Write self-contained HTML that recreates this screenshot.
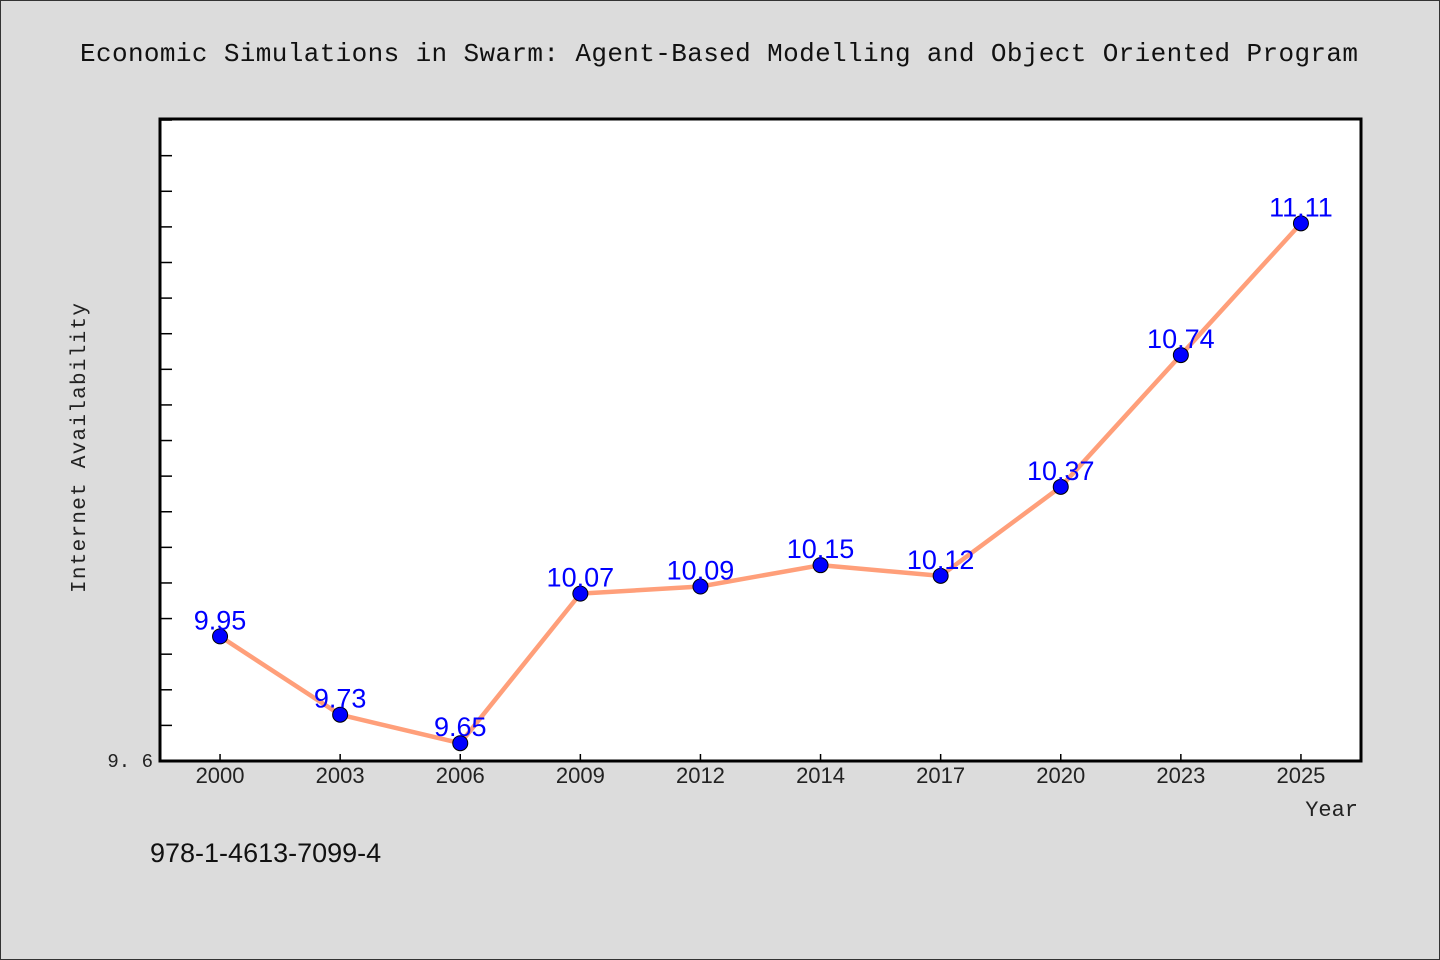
<!DOCTYPE html>
<html><head><meta charset="utf-8"><style>
html,body{margin:0;padding:0;background:#dcdcdc;}
svg{display:block;}
</style></head><body>
<svg id="chart" width="1440" height="960" xmlns="http://www.w3.org/2000/svg" font-family="Liberation Mono, monospace">
<rect x="0.5" y="0.5" width="1439" height="959" fill="#dcdcdc" stroke="#333"/>
<text x="80" y="61" textLength="1278" lengthAdjust="spacing" font-size="26" fill="#111">Economic Simulations in Swarm: Agent-Based Modelling and Object Oriented Program</text>
<rect x="160" y="119" width="1201" height="642" fill="#fff" stroke="#000" stroke-width="3"/>
<g id="yticks"></g>
<g id="xticks"></g>
<text x="85" y="448" transform="rotate(-90 85 448)" text-anchor="middle" font-size="21" textLength="290" lengthAdjust="spacing" fill="#222">Internet Availability</text>
<text x="1358" y="816" text-anchor="end" font-size="22" fill="#222">Year</text>
<text x="150" y="862" font-family="Liberation Sans, sans-serif" font-size="27" fill="#111">978-1-4613-7099-4</text>
<g id="series"></g>
</svg>
<script>
const categories=["2000","2003","2006","2009","2012","2014","2017","2020","2023","2025"];
const values=[9.95,9.73,9.65,10.07,10.09,10.15,10.12,10.37,10.74,11.11];
const yTickLabels=["9.6"];
const yMin=9.6, yMax=11.403;
const NS="http://www.w3.org/2000/svg";
const L=160,R=1361,T=119,B=761;
const band=(R-L)/categories.length;
function x(i){return L+band*(i+0.5);}
function y(v){return B-(v-yMin)/(yMax-yMin)*(B-T);}
function mk(t,a,p){const e=document.createElementNS(NS,t);for(const k in a)e.setAttribute(k,a[k]);p.appendChild(e);return e;}
const yg=document.getElementById('yticks');
for(let k=1;k*0.1+yMin<yMax;k++){const v=yMin+k*0.1;
const t=mk('line',{x1:161,x2:172,y1:y(v),y2:y(v),stroke:'#000','stroke-width':1.5},yg);

}
yTickLabels.forEach(s=>{const t=mk('text',{x:153,y:y(parseFloat(s))+6,'text-anchor':'end','font-size':19,fill:'#222'},yg);t.textContent=s.replace('.','. ');

});
const xg=document.getElementById('xticks');
categories.forEach((c,i)=>{const l=mk('line',{x1:x(i),x2:x(i),y1:754,y2:760,stroke:'#000','stroke-width':1.5},xg);


const t=mk('text',{x:x(i),y:783,'text-anchor':'middle','font-family':'Liberation Sans, sans-serif','font-size':22,fill:'#222'},xg);t.textContent=c;

});
const sg=document.getElementById('series');
const pl=mk('polyline',{points:values.map((v,i)=>x(i)+','+y(v)).join(' '),fill:'none',stroke:'#ff9f7a','stroke-width':4.5,'stroke-linejoin':'round'},sg);


values.forEach((v,i)=>{const c=mk('circle',{cx:x(i),cy:y(v),r:7.5,fill:'#0000ff',stroke:'#000','stroke-width':1},sg);


const t=mk('text',{x:x(i),y:y(v)-7,'text-anchor':'middle','font-family':'Liberation Sans, sans-serif','font-size':27,fill:'#0000ff'},sg);t.textContent=v.toFixed(2);

});
</script>
</body></html>
